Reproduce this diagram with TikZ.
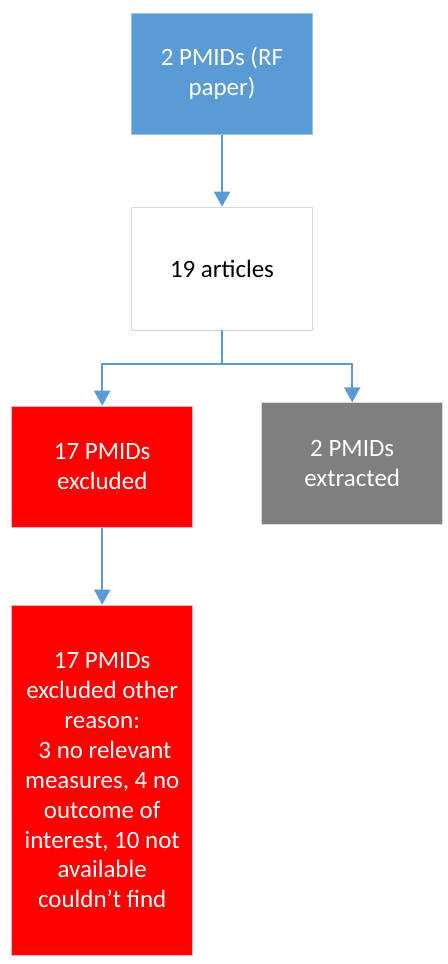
\documentclass[tikz,border=0pt]{standalone}
\usepackage{fontspec}
\setmainfont{Carlito}
\usetikzlibrary{arrows.meta, positioning}

\definecolor{boxblue}{HTML}{5B9BD5}
\definecolor{blueedge}{HTML}{9DC3E6}
\definecolor{lightedge}{HTML}{D9D9D9}
\definecolor{boxgray}{HTML}{7F7F7F}
\definecolor{rededge}{HTML}{F4B6B6}

\begin{document}
\begin{tikzpicture}[
  flowbox/.style = {rectangle, thin, minimum width=3.62cm, align=center,
                    font=\fontsize{14.2pt}{17pt}\selectfont, inner sep=2pt},
  srcbox/.style  = {flowbox, draw=blueedge, fill=boxblue, text=white, minimum height=2.42cm},
  countbox/.style= {flowbox, draw=lightedge, fill=white, text=black, minimum height=2.46cm},
  exclbox/.style = {flowbox, draw=rededge, fill=red, text=white},
  extrbox/.style = {flowbox, draw=lightedge, fill=boxgray, text=white, minimum height=2.43cm},
  arr/.style     = {-{Triangle[length=0.3cm, width=0.32cm]}, line width=1.1pt, boxblue}
]
\useasboundingbox (0,0) rectangle (8.94,19.28);

%% ── Top: source and count ─────────────────────────────────────────────────────
\node[srcbox]   (rf)  at (4.44,17.805) {2 PMIDs (RF\\paper)};
\node[countbox] (art) at (4.44,13.91)  {19 articles};

%% ── Split ────────────────────────────────────────────────────────────────────
\coordinate (split) at (4.44,12.0);
\node[exclbox, minimum height=2.43cm] (excl) at (2.044,9.943) {17 PMIDs\\excluded};
\node[extrbox] (extr) at (7.044,10.01) {2 PMIDs\\extracted};

%% ── Reasons ──────────────────────────────────────────────────────────────────
\node[exclbox, minimum height=7.01cm] (why) at (2.044,3.673)
  {17 PMIDs\\excluded other\\reason:\\\ 3 no relevant\\measures, 4 no\\outcome of\\interest, 10 not\\available\\couldn’t find};

%% ── Arrows ───────────────────────────────────────────────────────────────────
\draw[arr] (rf)  -- (art);
\draw[arr] (art.south) -- (split) -| (excl.north);
\draw[arr] (split) -| (extr.north);
\draw[arr] (excl) -- (why);

\end{tikzpicture}
\end{document}
